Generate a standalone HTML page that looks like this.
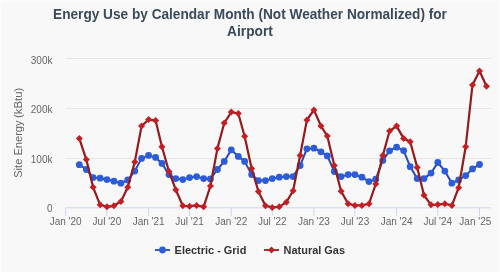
<!DOCTYPE html>
<html><head><meta charset="utf-8"><style>
html,body{margin:0;padding:0;background:#f8f8f8;}
svg{display:block;will-change:transform;font-family:"Liberation Sans",sans-serif;}
</style></head><body>
<svg width="500" height="273" viewBox="0 0 500 273">
<rect x="0" y="0" width="500" height="273" fill="#f8f8f8"/>
<rect x="0" y="0" width="500" height="2" fill="#fbfbfb"/><rect x="0" y="0" width="1" height="273" fill="#fcfcfc"/><rect x="499" y="0" width="1" height="273" fill="#fcfcfc"/><rect x="0" y="272" width="500" height="1" fill="#ffffff"/>
<g fill="#3a4a5b" font-weight="bold" font-size="13.65" text-anchor="middle">
<text transform="translate(250 18.8) scale(1 1.07)">Energy Use by Calendar Month (Not Weather Normalized) for</text>
<text transform="translate(250 35.5) scale(1 1.07)" font-size="13.75">Airport</text>
</g>
<g stroke="#e6e6e6" stroke-width="1"><line x1="65.5" y1="58.5" x2="491" y2="58.5"/><line x1="65.5" y1="108.5" x2="491" y2="108.5"/><line x1="65.5" y1="158.5" x2="491" y2="158.5"/></g>
<g stroke="#ccd6eb" stroke-width="1"><line x1="65.5" y1="207.8" x2="491" y2="207.8"/><line x1="65.70" y1="208" x2="65.70" y2="216"/><line x1="106.92" y1="208" x2="106.92" y2="216"/><line x1="148.60" y1="208" x2="148.60" y2="216"/><line x1="189.59" y1="208" x2="189.59" y2="216"/><line x1="231.27" y1="208" x2="231.27" y2="216"/><line x1="272.26" y1="208" x2="272.26" y2="216"/><line x1="313.93" y1="208" x2="313.93" y2="216"/><line x1="354.93" y1="208" x2="354.93" y2="216"/><line x1="396.60" y1="208" x2="396.60" y2="216"/><line x1="437.83" y1="208" x2="437.83" y2="216"/><line x1="479.50" y1="208" x2="479.50" y2="216"/></g>
<g fill="#666666" font-size="10" text-anchor="middle"><text x="65.70" y="225">Jan '20</text><text x="106.92" y="225">Jul '20</text><text x="148.60" y="225">Jan '21</text><text x="189.59" y="225">Jul '21</text><text x="231.27" y="225">Jan '22</text><text x="272.26" y="225">Jul '22</text><text x="313.93" y="225">Jan '23</text><text x="354.93" y="225">Jul '23</text><text x="396.60" y="225">Jan '24</text><text x="437.83" y="225">Jul '24</text><text x="491.3" y="225" text-anchor="end">Jan '25</text></g>
<g fill="#666666" font-size="10" text-anchor="end"><text x="52.5" y="64">300k</text><text x="52.5" y="113.4">200k</text><text x="52.5" y="162.6">100k</text><text x="52.5" y="212.4">0</text></g>
<text transform="translate(21.5 177.8) rotate(-90)" fill="#666666" font-size="11.1" text-anchor="start">Site Energy</text><text transform="translate(21.5 117.9) rotate(-90)" fill="#666666" font-size="11.3" text-anchor="start">(kBtu)</text>
<g><path d="M79.29 164.70 L86.31 169.50 L93.11 177.60 L100.13 178.20 L106.92 179.60 L113.94 181.20 L120.96 183.20 L127.76 180.00 L134.78 171.10 L141.57 158.40 L148.60 155.40 L155.62 157.40 L161.96 163.40 L168.98 174.60 L175.77 178.60 L182.80 179.60 L189.59 177.60 L196.61 176.60 L203.63 178.60 L210.43 179.00 L217.45 169.50 L224.24 161.40 L231.27 149.80 L238.29 156.40 L244.63 161.40 L251.65 174.60 L258.44 180.60 L265.47 180.60 L272.26 178.60 L279.28 177.20 L286.30 176.60 L293.10 176.60 L300.12 165.50 L306.91 148.80 L313.93 148.20 L320.96 151.80 L327.30 155.90 L334.32 171.50 L341.11 176.60 L348.13 174.60 L354.93 174.60 L361.95 177.20 L368.97 181.60 L375.77 179.20 L382.79 160.40 L389.58 150.80 L396.60 147.20 L403.63 150.60 L410.19 166.70 L417.21 178.60 L424.01 178.60 L431.03 173.10 L437.83 162.50 L444.85 171.10 L451.87 183.20 L458.66 180.00 L465.68 175.60 L472.48 168.90 L479.50 164.50" fill="none" stroke="#2a4aa8" stroke-width="2" stroke-linejoin="round" stroke-linecap="round"/>
<g fill="#2d5cd8"><circle cx="79.29" cy="164.70" r="3.4"/><circle cx="86.31" cy="169.50" r="3.4"/><circle cx="93.11" cy="177.60" r="3.4"/><circle cx="100.13" cy="178.20" r="3.4"/><circle cx="106.92" cy="179.60" r="3.4"/><circle cx="113.94" cy="181.20" r="3.4"/><circle cx="120.96" cy="183.20" r="3.4"/><circle cx="127.76" cy="180.00" r="3.4"/><circle cx="134.78" cy="171.10" r="3.4"/><circle cx="141.57" cy="158.40" r="3.4"/><circle cx="148.60" cy="155.40" r="3.4"/><circle cx="155.62" cy="157.40" r="3.4"/><circle cx="161.96" cy="163.40" r="3.4"/><circle cx="168.98" cy="174.60" r="3.4"/><circle cx="175.77" cy="178.60" r="3.4"/><circle cx="182.80" cy="179.60" r="3.4"/><circle cx="189.59" cy="177.60" r="3.4"/><circle cx="196.61" cy="176.60" r="3.4"/><circle cx="203.63" cy="178.60" r="3.4"/><circle cx="210.43" cy="179.00" r="3.4"/><circle cx="217.45" cy="169.50" r="3.4"/><circle cx="224.24" cy="161.40" r="3.4"/><circle cx="231.27" cy="149.80" r="3.4"/><circle cx="238.29" cy="156.40" r="3.4"/><circle cx="244.63" cy="161.40" r="3.4"/><circle cx="251.65" cy="174.60" r="3.4"/><circle cx="258.44" cy="180.60" r="3.4"/><circle cx="265.47" cy="180.60" r="3.4"/><circle cx="272.26" cy="178.60" r="3.4"/><circle cx="279.28" cy="177.20" r="3.4"/><circle cx="286.30" cy="176.60" r="3.4"/><circle cx="293.10" cy="176.60" r="3.4"/><circle cx="300.12" cy="165.50" r="3.4"/><circle cx="306.91" cy="148.80" r="3.4"/><circle cx="313.93" cy="148.20" r="3.4"/><circle cx="320.96" cy="151.80" r="3.4"/><circle cx="327.30" cy="155.90" r="3.4"/><circle cx="334.32" cy="171.50" r="3.4"/><circle cx="341.11" cy="176.60" r="3.4"/><circle cx="348.13" cy="174.60" r="3.4"/><circle cx="354.93" cy="174.60" r="3.4"/><circle cx="361.95" cy="177.20" r="3.4"/><circle cx="368.97" cy="181.60" r="3.4"/><circle cx="375.77" cy="179.20" r="3.4"/><circle cx="382.79" cy="160.40" r="3.4"/><circle cx="389.58" cy="150.80" r="3.4"/><circle cx="396.60" cy="147.20" r="3.4"/><circle cx="403.63" cy="150.60" r="3.4"/><circle cx="410.19" cy="166.70" r="3.4"/><circle cx="417.21" cy="178.60" r="3.4"/><circle cx="424.01" cy="178.60" r="3.4"/><circle cx="431.03" cy="173.10" r="3.4"/><circle cx="437.83" cy="162.50" r="3.4"/><circle cx="444.85" cy="171.10" r="3.4"/><circle cx="451.87" cy="183.20" r="3.4"/><circle cx="458.66" cy="180.00" r="3.4"/><circle cx="465.68" cy="175.60" r="3.4"/><circle cx="472.48" cy="168.90" r="3.4"/><circle cx="479.50" cy="164.50" r="3.4"/></g></g>
<g><path d="M79.29 138.40 L86.31 159.60 L93.11 187.30 L100.13 204.80 L106.92 206.80 L113.94 205.80 L120.96 201.40 L127.76 187.30 L134.78 162.10 L141.57 126.00 L148.60 119.60 L155.62 120.60 L161.96 146.80 L168.98 171.50 L175.77 189.70 L182.80 205.80 L189.59 206.20 L196.61 205.40 L203.63 206.80 L210.43 186.00 L217.45 148.40 L224.24 123.00 L231.27 112.10 L238.29 113.50 L244.63 136.30 L251.65 168.50 L258.44 191.40 L265.47 205.80 L272.26 207.40 L279.28 206.80 L286.30 202.20 L293.10 190.70 L300.12 155.40 L306.91 120.00 L313.93 109.90 L320.96 126.00 L327.30 136.10 L334.32 165.50 L341.11 191.30 L348.13 203.80 L354.93 205.40 L361.95 205.40 L368.97 203.80 L375.77 184.00 L382.79 155.60 L389.58 131.00 L396.60 126.10 L403.63 138.40 L410.19 141.80 L417.21 167.40 L424.01 195.30 L431.03 204.80 L437.83 204.60 L444.85 203.80 L451.87 205.40 L458.66 187.70 L465.68 146.70 L472.48 85.00 L479.50 71.00 L486.52 86.20" fill="none" stroke="#921b1d" stroke-width="2.2" stroke-linejoin="round" stroke-linecap="round"/>
<g fill="#c41e24"><path d="M79.29 134.90 L82.79 138.40 L79.29 141.90 L75.79 138.40Z"/><path d="M86.31 156.10 L89.81 159.60 L86.31 163.10 L82.81 159.60Z"/><path d="M93.11 183.80 L96.61 187.30 L93.11 190.80 L89.61 187.30Z"/><path d="M100.13 201.30 L103.63 204.80 L100.13 208.30 L96.63 204.80Z"/><path d="M106.92 203.30 L110.42 206.80 L106.92 210.30 L103.42 206.80Z"/><path d="M113.94 202.30 L117.44 205.80 L113.94 209.30 L110.44 205.80Z"/><path d="M120.96 197.90 L124.46 201.40 L120.96 204.90 L117.46 201.40Z"/><path d="M127.76 183.80 L131.26 187.30 L127.76 190.80 L124.26 187.30Z"/><path d="M134.78 158.60 L138.28 162.10 L134.78 165.60 L131.28 162.10Z"/><path d="M141.57 122.50 L145.07 126.00 L141.57 129.50 L138.07 126.00Z"/><path d="M148.60 116.10 L152.10 119.60 L148.60 123.10 L145.10 119.60Z"/><path d="M155.62 117.10 L159.12 120.60 L155.62 124.10 L152.12 120.60Z"/><path d="M161.96 143.30 L165.46 146.80 L161.96 150.30 L158.46 146.80Z"/><path d="M168.98 168.00 L172.48 171.50 L168.98 175.00 L165.48 171.50Z"/><path d="M175.77 186.20 L179.27 189.70 L175.77 193.20 L172.27 189.70Z"/><path d="M182.80 202.30 L186.30 205.80 L182.80 209.30 L179.30 205.80Z"/><path d="M189.59 202.70 L193.09 206.20 L189.59 209.70 L186.09 206.20Z"/><path d="M196.61 201.90 L200.11 205.40 L196.61 208.90 L193.11 205.40Z"/><path d="M203.63 203.30 L207.13 206.80 L203.63 210.30 L200.13 206.80Z"/><path d="M210.43 182.50 L213.93 186.00 L210.43 189.50 L206.93 186.00Z"/><path d="M217.45 144.90 L220.95 148.40 L217.45 151.90 L213.95 148.40Z"/><path d="M224.24 119.50 L227.74 123.00 L224.24 126.50 L220.74 123.00Z"/><path d="M231.27 108.60 L234.77 112.10 L231.27 115.60 L227.77 112.10Z"/><path d="M238.29 110.00 L241.79 113.50 L238.29 117.00 L234.79 113.50Z"/><path d="M244.63 132.80 L248.13 136.30 L244.63 139.80 L241.13 136.30Z"/><path d="M251.65 165.00 L255.15 168.50 L251.65 172.00 L248.15 168.50Z"/><path d="M258.44 187.90 L261.94 191.40 L258.44 194.90 L254.94 191.40Z"/><path d="M265.47 202.30 L268.97 205.80 L265.47 209.30 L261.97 205.80Z"/><path d="M272.26 203.90 L275.76 207.40 L272.26 210.90 L268.76 207.40Z"/><path d="M279.28 203.30 L282.78 206.80 L279.28 210.30 L275.78 206.80Z"/><path d="M286.30 198.70 L289.80 202.20 L286.30 205.70 L282.80 202.20Z"/><path d="M293.10 187.20 L296.60 190.70 L293.10 194.20 L289.60 190.70Z"/><path d="M300.12 151.90 L303.62 155.40 L300.12 158.90 L296.62 155.40Z"/><path d="M306.91 116.50 L310.41 120.00 L306.91 123.50 L303.41 120.00Z"/><path d="M313.93 106.40 L317.43 109.90 L313.93 113.40 L310.43 109.90Z"/><path d="M320.96 122.50 L324.46 126.00 L320.96 129.50 L317.46 126.00Z"/><path d="M327.30 132.60 L330.80 136.10 L327.30 139.60 L323.80 136.10Z"/><path d="M334.32 162.00 L337.82 165.50 L334.32 169.00 L330.82 165.50Z"/><path d="M341.11 187.80 L344.61 191.30 L341.11 194.80 L337.61 191.30Z"/><path d="M348.13 200.30 L351.63 203.80 L348.13 207.30 L344.63 203.80Z"/><path d="M354.93 201.90 L358.43 205.40 L354.93 208.90 L351.43 205.40Z"/><path d="M361.95 201.90 L365.45 205.40 L361.95 208.90 L358.45 205.40Z"/><path d="M368.97 200.30 L372.47 203.80 L368.97 207.30 L365.47 203.80Z"/><path d="M375.77 180.50 L379.27 184.00 L375.77 187.50 L372.27 184.00Z"/><path d="M382.79 152.10 L386.29 155.60 L382.79 159.10 L379.29 155.60Z"/><path d="M389.58 127.50 L393.08 131.00 L389.58 134.50 L386.08 131.00Z"/><path d="M396.60 122.60 L400.10 126.10 L396.60 129.60 L393.10 126.10Z"/><path d="M403.63 134.90 L407.13 138.40 L403.63 141.90 L400.13 138.40Z"/><path d="M410.19 138.30 L413.69 141.80 L410.19 145.30 L406.69 141.80Z"/><path d="M417.21 163.90 L420.71 167.40 L417.21 170.90 L413.71 167.40Z"/><path d="M424.01 191.80 L427.51 195.30 L424.01 198.80 L420.51 195.30Z"/><path d="M431.03 201.30 L434.53 204.80 L431.03 208.30 L427.53 204.80Z"/><path d="M437.83 201.10 L441.33 204.60 L437.83 208.10 L434.33 204.60Z"/><path d="M444.85 200.30 L448.35 203.80 L444.85 207.30 L441.35 203.80Z"/><path d="M451.87 201.90 L455.37 205.40 L451.87 208.90 L448.37 205.40Z"/><path d="M458.66 184.20 L462.16 187.70 L458.66 191.20 L455.16 187.70Z"/><path d="M465.68 143.20 L469.18 146.70 L465.68 150.20 L462.18 146.70Z"/><path d="M472.48 81.50 L475.98 85.00 L472.48 88.50 L468.98 85.00Z"/><path d="M479.50 67.50 L483.00 71.00 L479.50 74.50 L476.00 71.00Z"/><path d="M486.52 82.70 L490.02 86.20 L486.52 89.70 L483.02 86.20Z"/></g></g>
<g>
<line x1="155" y1="250" x2="170" y2="250" stroke="#2a4aa8" stroke-width="1.8"/>
<circle cx="162.5" cy="250" r="3.4" fill="#2d5cd8"/>
<text x="174.6" y="253.6" font-size="10.95" font-weight="bold" fill="#333333">Electric - Grid</text>
</g>
<g>
<line x1="264" y1="250" x2="279" y2="250" stroke="#921b1d" stroke-width="1.8"/>
<path d="M271.5 246.5 L275 250 L271.5 253.5 L268 250Z" fill="#c41e24"/>
<text x="283.6" y="253.6" font-size="10.95" font-weight="bold" fill="#333333">Natural Gas</text>
</g>
</svg>
</body></html>
